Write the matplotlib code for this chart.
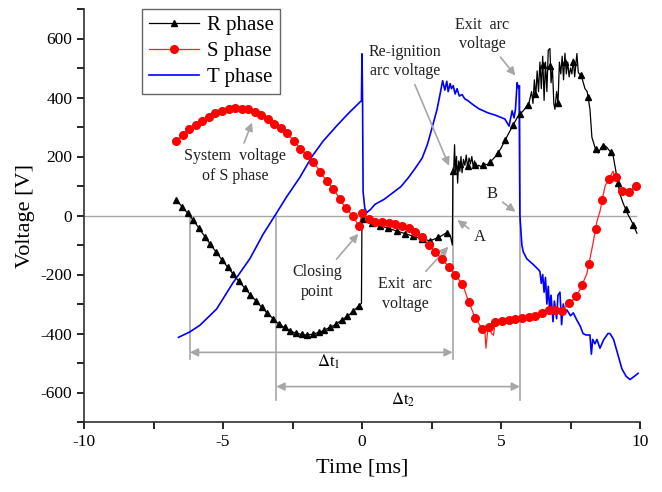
import numpy as np
import matplotlib.pyplot as plt

plt.rcParams['font.family'] = ['Liberation Serif', 'DejaVu Serif']
plt.rcParams['mathtext.fontset'] = 'stix'
plt.rcParams['axes.unicode_minus'] = False

# R phase (black, triangles)
r_t = [-6.68, -6.4, -6.2, -6.0, -5.5, -5.0, -4.5, -4.0, -3.5, -3.0, -2.5, -2.1, -1.8,
       -1.5, -1.0, -0.5, -0.02,
       0.0, 0.05, 0.3, 0.6, 1.0, 1.5, 2.0, 2.45, 2.8, 3.05, 3.18, 3.25,
       3.27, 3.3, 3.33, 3.36, 3.4, 3.44, 3.48, 3.52, 3.56, 3.6, 3.65, 3.7, 3.75, 3.8,
       3.85, 3.9, 3.95, 4.0, 4.05, 4.1, 4.2, 4.3, 4.4, 4.5, 4.6, 4.8, 5.0, 5.2, 5.4,
       5.6, 5.8, 6.0, 6.1, 6.15, 6.2, 6.25, 6.3, 6.35, 6.4, 6.45, 6.5, 6.55, 6.6, 6.65,
       6.7, 6.76, 6.8, 6.85, 6.9, 6.94, 7.0, 7.05, 7.1, 7.15, 7.2, 7.25, 7.3, 7.35, 7.4,
       7.45, 7.5, 7.55, 7.6, 7.65, 7.7, 7.73, 7.78, 7.9, 8.02, 8.1, 8.2, 8.27, 8.4, 8.5,
       8.6, 8.7, 8.8, 8.9, 9.03, 9.15, 9.28, 9.4, 9.57, 9.7, 9.89]
r_v = [53, 22, 0, -25, -92, -155, -215, -270, -322, -368, -395, -405, -403,
       -395, -372, -340, -298,
       20, -12, -25, -33, -45, -60, -75, -86, -72, -58, -70, -100,
       150, 160, 240, 140, 200, 110, 185, 150, 200, 145, 190, 170, 205, 160,
       195, 175, 200, 165, 185, 160, 170, 165, 175, 172, 180, 200, 228, 265, 300,
       335, 355, 380, 420, 380, 460, 400, 490, 420, 520, 430, 540, 390, 520, 420,
       560, 566, 450, 500, 380, 360, 420, 380, 520, 480, 540, 460, 550, 480, 520,
       470, 500, 480, 530, 470, 520, 549, 485, 470, 430, 420, 360, 265, 225, 212,
       230, 238, 232, 220, 205, 140, 72, 40, 3, -20, -60]

# S phase (red, dots)
s_t = [-6.68, -6.3, -5.83, -5.36, -4.9, -4.64, -4.14, -3.67, -3.2, -2.7, -2.23, -1.76,
       -1.4, -0.97, -0.68, -0.32, -0.1,
       0.0, 0.05, 0.36, 0.7, 1.08, 1.62, 2.09, 2.52, 3.06, 3.35, 3.63, 3.81, 4.06, 4.32,
       4.42, 4.46, 4.54, 4.66, 4.73, 4.79, 4.85, 5.2, 5.58, 6.04, 6.4, 6.76, 6.95, 7.12,
       7.37, 7.6, 7.84, 8.09, 8.3, 8.45, 8.56, 8.74, 9.03, 9.3, 9.53, 9.82, 9.93]
s_v = [252, 286, 316, 344, 360, 365, 361, 344, 314, 280, 228, 184,
       133, 82, 38, -3, -37,
       10, 0, -20, -23, -27, -41, -65, -112, -167, -201, -235, -286, -344, -385,
       -390, -450, -372, -400, -406, -361, -358, -357, -351, -344, -335, -317, -320, -334,
       -303, -285, -252, -197, -99, -20, 14, 99, 150, 89, 72, 99, 109]

# T phase (blue line)
t_t = [-6.6, -6.2, -5.83, -5.23, -4.64, -4.03, -3.56, -3.13, -2.7, -2.23, -1.8, -1.4,
       -0.9, -0.5, -0.07, -0.02, 0.0, 0.02, 0.04, 0.1, 0.17, 0.3, 0.47, 0.8, 1.08, 1.4,
       1.65, 1.9, 2.16, 2.35, 2.52, 2.7, 2.81, 2.9, 2.98, 3.05, 3.1, 3.17, 3.22, 3.28,
       3.35, 3.42, 3.5, 3.6, 3.7, 3.8, 3.96, 4.2, 4.53, 4.8, 5.14, 5.29, 5.4, 5.47, 5.52,
       5.58, 5.62, 5.65, 5.68, 5.75, 5.8, 5.93, 6.17, 6.35, 6.4, 6.45, 6.5, 6.55, 6.6,
       6.65, 6.7, 6.75, 6.8, 6.87, 6.92, 7.0, 7.05, 7.12, 7.18, 7.24, 7.3, 7.37, 7.5,
       7.6, 7.73, 7.85, 7.95, 8.05, 8.2, 8.25, 8.3, 8.38, 8.45, 8.56, 8.7, 8.85, 8.92,
       9.05, 9.17, 9.35, 9.5, 9.64, 9.8, 9.93]
t_v = [-413, -395, -372, -317, -228, -146, -64, 0, 65, 130, 200, 252,
       305, 345, 385, 388, 548, 390, 80, 25, 10, 20, 38, 55, 75, 98,
       126, 158, 194, 240, 297, 360, 412, 457, 425, 455, 420, 447, 430, 440,
       412, 430, 405, 410, 395, 390, 378, 362, 348, 340, 327, 303, 355, 331, 360,
       450, 433, 440, 0, -100, -123, -147, -167, -184, -190, -230, -200, -260, -210,
       -300, -240, -320, -270, -360, -290, -350, -270, -260, -370, -300, -330, -320, -340,
       -330, -355, -375, -400, -405, -405, -470, -420, -435, -420, -450, -420, -400, -400,
       -420, -460, -520, -545, -556, -545, -535]

# marker times along each trace
r_mark = np.concatenate([np.arange(-6.68, -0.05, 0.205), np.arange(0.05, 3.2, 0.3),
                         np.arange(3.27, 9.95, 0.27)])
s_mark = np.concatenate([np.arange(-6.68, -0.05, 0.235), np.arange(0.0, 9.95, 0.24)])

grey = '#a6a6a6'
fig = plt.figure(figsize=(6.62, 4.92), dpi=100)
ax = fig.add_axes([84/662, 70/492, 556/662, 413/492])

ax.plot([-10, 9.85], [0, 0], color=grey, lw=1, zorder=1)
# reference verticals
ax.plot([-6.19, -6.19], [0, -487], color=grey, lw=1.2)
ax.plot([-3.08, -3.08], [0, -627], color=grey, lw=1.2)
ax.plot([3.26, 3.26], [160, -487], color=grey, lw=1.2)
ax.plot([5.68, 5.68], [440, -627], color=grey, lw=1.2)

ax.plot(r_t, r_v, color='k', lw=0.9, zorder=3)
ax.plot(r_mark, np.interp(r_mark, r_t, r_v), 'k^', ms=5, zorder=4)
ax.plot(s_t, s_v, color='#ff2020', lw=0.9, zorder=3)
ax.plot(s_mark, np.interp(s_mark, s_t, s_v), 'o', color='#ff0000', ms=5.5, zorder=4)
ax.plot(t_t, t_v, color='#0000ff', lw=1.2, zorder=2)

# legend proxies
hr, = ax.plot([], [], color='k', lw=0.9, marker='^', ms=5)
hs, = ax.plot([], [], color='#ff2020', lw=0.9, marker='o', ms=5.5, mfc='#ff0000', mec='#ff0000')
ht, = ax.plot([], [], color='#0000ff', lw=1.2)
leg = ax.legend([hr, hs, ht], ['R phase', 'S phase', 'T phase'], loc='upper left',
                bbox_to_anchor=(0.105, 1.0), fontsize=15, frameon=True, fancybox=False,
                edgecolor='#404040', handlelength=2.4, borderpad=0.3, labelspacing=0.32,
                handletextpad=0.4, borderaxespad=0)
leg.get_frame().set_linewidth(1.0)

aprops = dict(arrowstyle='-|>', color=grey, lw=1.2, mutation_scale=12)
tc = '#202020'
ax.annotate('System  voltage\nof S phase', xy=(-3.92, 324), xytext=(-4.57, 167),
            ha='center', va='center', fontsize=11.5, color=tc, arrowprops=aprops,
            linespacing=1.3)
ax.annotate('Closing\npoint', xy=(-0.07, -55), xytext=(-1.62, -225),
            ha='center', va='center', fontsize=11.5, color=tc, arrowprops=aprops,
            linespacing=1.3)
ax.annotate('Re-ignition\narc voltage', xy=(3.17, 160), xytext=(1.55, 522),
            ha='center', va='center', fontsize=11.5, color=tc, arrowprops=aprops,
            linespacing=1.3)
ax.annotate('Exit  arc\nvoltage', xy=(5.58, 467), xytext=(4.32, 614),
            ha='center', va='center', fontsize=11.5, color=tc, arrowprops=aprops,
            linespacing=1.3)
ax.annotate('Exit  arc\nvoltage', xy=(3.17, -99), xytext=(1.55, -266),
            ha='center', va='center', fontsize=11.5, color=tc, arrowprops=aprops,
            linespacing=1.3)
ax.annotate('B', xy=(5.6, 7), xytext=(4.68, 72), ha='center', va='center',
            fontsize=12, color=tc, arrowprops=aprops)
ax.annotate('A', xy=(3.35, -10), xytext=(4.24, -72), ha='center', va='center',
            fontsize=12, color=tc, arrowprops=aprops)

# time span arrows
dprops = dict(arrowstyle='<|-|>', color=grey, lw=1.2, mutation_scale=12,
              shrinkA=0, shrinkB=0)
ax.annotate('', xy=(-6.19, -464), xytext=(3.26, -464), arrowprops=dprops)
ax.annotate('', xy=(-3.08, -580), xytext=(5.68, -580), arrowprops=dprops)
ax.text(-1.2, -497, r'$\Delta$t$_1$', ha='center', va='center', fontsize=12)
ax.text(1.48, -624, r'$\Delta$t$_2$', ha='center', va='center', fontsize=12)

ax.set_xlim(-10, 10)
ax.set_ylim(-700, 700)
ax.set_xticks([-10, -5, 0, 5, 10])
ax.set_xticks([-7.5, -2.5, 2.5, 7.5], minor=True)
ax.set_yticks([-600, -400, -200, 0, 200, 400, 600])
ax.set_yticks([-700, -500, -300, -100, 100, 300, 500, 700], minor=True)
ax.tick_params(which='both', direction='out', length=5, width=1.2, labelsize=12.5)
for s in ['top', 'right']:
    ax.spines[s].set_visible(False)
for s in ['left', 'bottom']:
    ax.spines[s].set_linewidth(1.2)
    ax.spines[s].set_color('#303030')
ax.set_xlabel('Time [ms]', fontsize=16, labelpad=6)
ax.set_ylabel('Voltage [V]', fontsize=16, labelpad=4)

fig.savefig('out.png', dpi=100)
